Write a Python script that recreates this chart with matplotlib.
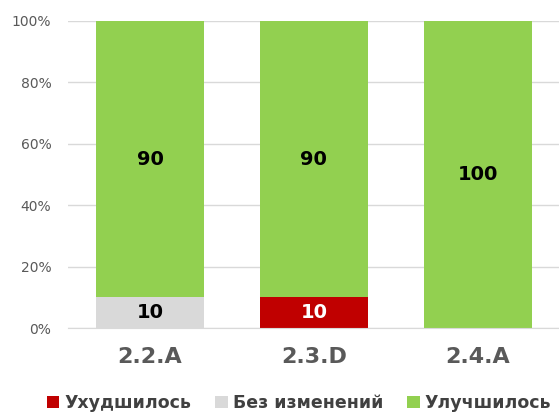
import matplotlib
matplotlib.use("Agg")
import matplotlib.pyplot as plt
import numpy as np

categories = ["2.2.A", "2.3.D", "2.4.A"]
worse = [0, 10, 0]
same = [10, 0, 0]
better = [90, 90, 100]
series_names = ["Ухудшилось", "Без изменений", "Улучшилось"]
colors = ["#C00000", "#D9D9D9", "#92D050"]
label_colors = ["white", "black", "black"]

fig = plt.figure(figsize=(5.59, 4.15), dpi=100)
ax = fig.add_axes([0.1216, 0.2096, 0.88, 0.7398])

x = np.arange(len(categories))
width = 0.66
bottom = np.zeros(len(categories))
for vals, name, col, lc in zip([worse, same, better], series_names, colors, label_colors):
    vals = np.array(vals, dtype=float)
    ax.bar(x, vals, width, bottom=bottom, color=col, label=name, zorder=2)
    for xi, v, b in zip(x, vals, bottom):
        if v > 0:
            ax.text(xi, b + v / 2, f"{int(v)}", ha="center", va="center",
                    fontsize=14, fontweight="bold", color=lc, zorder=3)
    bottom += vals

ax.set_xlim(-0.5, 2.5)
ax.set_ylim(0, 100)
ax.set_yticks(np.arange(0, 101, 20))
ax.set_yticklabels([f"{v}%" for v in range(0, 101, 20)])
ax.yaxis.grid(True, color="#D9D9D9", linewidth=1, zorder=0)
ax.set_axisbelow(True)
for s in ["top", "right", "left"]:
    ax.spines[s].set_visible(False)
ax.spines["bottom"].set_color("#D9D9D9")
ax.tick_params(axis="y", length=0, labelsize=10, labelcolor="#595959", pad=12)
ax.tick_params(axis="x", length=0, pad=14)
ax.set_xticks(x)
ax.set_xticklabels(categories, fontsize=16, fontweight="bold", color="#595959")

fig.legend(loc="lower center", bbox_to_anchor=(0.535, -0.03), ncol=3, frameon=False,
           prop={"size": 12.5, "weight": "bold"}, labelcolor="#404040",
           handlelength=0.7, handleheight=0.7, handletextpad=0.3, columnspacing=1.4)

fig.savefig("out.png", dpi=100)
